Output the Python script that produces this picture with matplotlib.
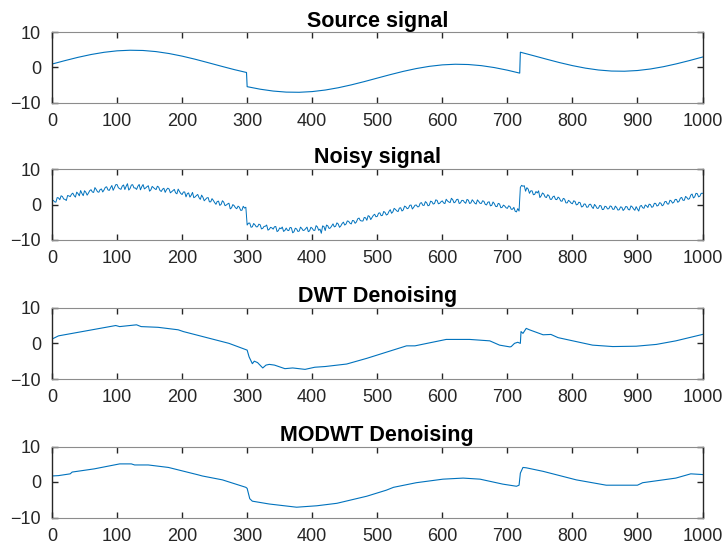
import matplotlib
matplotlib.use("Agg")
import matplotlib.pyplot as plt

plt.rcParams['font.family'] = ['Liberation Sans', 'DejaVu Sans']

titles = ["Source signal", "Noisy signal", "DWT Denoising", "MODWT Denoising"]
x_ticks = [0, 100, 200, 300, 400, 500, 600, 700, 800, 900, 1000]
y_ticks = [-10, 0, 10]

# Source signal (read every 20 samples, with both sides of the jumps)
src_x = [0, 20, 40, 60, 80, 100, 120, 140, 160, 180, 200, 220, 240, 260, 280, 299,
         300, 320, 340, 360, 380, 400, 420, 440, 460, 480, 500, 520, 540, 560, 580,
         600, 620, 640, 660, 680, 700, 719,
         720, 740, 760, 780, 800, 820, 840, 860, 880, 900, 920, 940, 960, 980, 1000]
src_y = [0.95, 1.94, 2.87, 3.67, 4.30, 4.72, 4.89, 4.82, 4.50, 3.95, 3.21, 2.33, 1.35, 0.35, -0.62, -1.45,
         -5.49, -6.21, -6.74, -7.04, -7.09, -6.89, -6.45, -5.80, -4.98, -4.05, -3.05, -2.06, -1.13, -0.33, 0.30,
         0.72, 0.90, 0.82, 0.50, -0.05, -0.79, -1.63,
         4.33, 3.35, 2.35, 1.38, 0.51, -0.21, -0.74, -1.04, -1.09, -0.89, -0.45, 0.20, 1.02, 1.95, 2.95]

# Noisy signal, samples 0, 4, 8, ..., 1000
noisy_even_y = [
    1.25, 0.75, 1.95, 1.35, 2.25,
    1.44, 2.53, 2.21, 3.20, 2.08,
    3.07, 3.93, 2.49, 3.45, 3.21,
    4.17, 3.40, 4.22, 3.45, 4.37,
    4.10, 4.98, 3.97, 5.35, 4.74,
    5.62, 4.45, 5.19, 4.22, 5.86,
    4.49, 5.58, 4.66, 5.15, 4.13,
    5.62, 4.66, 5.29, 4.13, 4.76,
    4.20, 4.89, 3.68, 4.57, 4.16,
    4.35, 3.60, 4.25, 3.01, 3.66,
    2.81, 3.53, 3.06, 2.08, 3.41,
    2.13, 2.83, 1.44, 2.04, 1.45,
    1.95, 0.75, 1.15, 0.05, 0.95,
    0.05, 0.66, -0.14, 0.37, -0.93,
    -0.32, -1.19, -0.75, -1.62, -1.00,
    -5.79, -5.23, -6.28, -5.72, -6.27,
    -5.71, -6.72, -6.12, -7.23, -6.43,
    -6.94, -6.20, -7.36, -6.82, -7.58,
    -6.64, -7.35, -6.56, -7.67, -6.88,
    -7.49, -6.75, -7.21, -6.37, -7.43,
    -6.69, -7.30, -6.31, -6.93, -6.04,
    -7.35, -6.02, -6.59, -5.46, -6.13,
    -5.50, -6.04, -4.97, -5.51, -4.74,
    -5.48, -4.59, -4.91, -3.82, -4.64,
    -3.65, -4.45, -3.35, -3.65, -2.75,
    -3.35, -2.35, -3.05, -2.25, -2.76,
    -1.46, -2.07, -1.39, -2.00, -0.92,
    -1.53, -0.67, -1.01, -0.15, -0.79,
    -0.13, -0.60, 0.52, -0.25, 0.47,
    -0.20, 0.78, 0.27, 1.15, 0.34,
    1.02, 0.26, 0.99, 0.53, 1.36,
    0.70, 1.48, 0.47, 1.15, 0.34,
    1.22, 0.46, 0.89, 0.13, 0.86,
    0.30, 0.89, -0.12, 0.77, -0.24,
    0.25, -0.60, 0.15, -0.79, -0.44,
    -1.09, -0.56, -1.33, -1.89, -1.16,
    4.83, 5.13, 3.74, 4.34, 3.85,
    2.75, 3.65, 3.85, 2.45, 2.95,
    1.95, 2.46, 1.46, 2.37, 1.37,
    1.78, 0.91, 1.53, 0.46, 0.88,
    0.21, 0.87, 0.02, 0.48, -0.57,
    0.09, -0.72, 0.08, -1.13, -0.43,
    -1.04, -0.40, -1.36, -0.62, -1.18,
    -0.54, -1.35, -0.86, -1.47, -0.78,
    -1.29, -0.65, -1.51, -0.67, -1.63,
    -1.29, -0.50, -0.91, -0.13, -0.84,
    -0.05, -0.62, 0.31, -0.26, 0.37,
    -0.10, 0.86, 0.13, 0.99, 0.66,
    1.42, 0.91, 1.99, 1.18, 1.96,
    1.65, 2.95, 2.15, 3.05, 2.35,
    3.15,
]

# Noisy signal, samples 2, 6, 10, ..., 998
noisy_odd_y = [
    1.15, 0.65, 1.85, 2.45, 1.55,
    1.13, 2.42, 2.90, 2.49, 3.48,
    2.45, 3.11, 3.87, 2.63, 3.89,
    3.53, 4.76, 3.58, 4.21, 3.53,
    4.84, 4.12, 4.71, 4.00, 5.58,
    4.74, 4.27, 5.50, 5.14, 4.07,
    5.48, 4.67, 4.25, 5.64, 5.02,
    4.39, 5.02, 3.76, 5.10, 4.43,
    5.15, 3.94, 4.33, 3.42, 4.60,
    3.28, 3.93, 3.28, 4.34, 3.09,
    3.52, 2.15, 3.27, 2.60, 1.92,
    2.53, 1.94, 2.64, 1.05, 1.85,
    0.75, 1.65, 0.55, 0.85, -0.25,
    1.06, -0.34, 0.16, -1.23, -0.03,
    -0.91, -0.47, -1.64, -0.50, -0.77,
    -5.26, -6.41, -5.35, -6.30, -5.54,
    -6.87, -6.17, -5.78, -6.98, -6.59,
    -6.27, -7.63, -6.59, -6.35, -7.31,
    -7.25, -6.46, -7.97, -6.68, -7.59,
    -6.37, -7.33, -6.79, -7.65, -6.41,
    -7.25, -5.96, -7.27, -8.10, -6.20,
    -5.79, -6.76, -6.03, -6.30, -5.17,
    -6.42, -5.36, -5.79, -4.63, -5.26,
    -4.49, -5.30, -4.02, -4.53, -4.65,
    -3.75, -3.15, -4.25, -3.05, -3.45,
    -2.45, -3.15, -1.95, -2.96, -1.96,
    -2.47, -1.08, -1.80, -1.01, -1.83,
    -0.45, -1.19, -0.23, -1.27, -0.21,
    -0.67, 0.36, -0.22, 0.81, -0.36,
    0.94, 0.13, 1.31, 0.20, 0.78,
    0.44, 1.48, 0.71, 1.75, 0.48,
    1.39, 0.28, 1.16, 0.65, 1.43,
    0.29, 1.33, 0.36, 1.30, 0.33,
    1.05, 0.04, 0.63, -0.38, 0.71,
    -0.53, 0.32, -0.92, -0.17, -0.92,
    -0.38, -1.35, -0.81, -2.08, -1.85,
    5.40, 5.30, 4.74, 3.15, 3.85,
    2.85, 3.25, 1.95, 3.25, 2.15,
    2.76, 1.46, 2.17, 1.47, 2.08,
    1.00, 1.72, 0.45, 1.17, 0.40,
    1.04, -0.10, 0.65, -0.69, 0.16,
    -0.77, 0.03, -0.68, 0.02, -1.09,
    -0.27, -1.43, -0.49, -1.25, -0.41,
    -1.35, -0.46, -1.57, -0.68, -1.69,
    -0.57, -1.43, -0.39, -1.25, -0.61,
    -1.85, -0.26, -1.07, -0.39, 0.10,
    -0.79, 0.34, -0.43, 0.51, -0.36,
    0.78, 0.15, 1.21, 0.38, 1.44,
    0.62, 1.80, 1.19, 2.27, 1.46,
    2.65, 1.85, 3.15, 2.15, 3.15,
]

# DWT denoised signal (breakpoints)
dwt_x = [0, 10, 98, 104, 130, 137, 163, 194, 202, 272, 300, 303, 308, 311, 316, 324, 329, 334,
         342, 358, 370, 389, 404, 420, 453, 484, 545, 558, 606, 642, 673, 688, 704, 706, 711,
         716, 720, 721, 724, 729, 734, 755, 767, 778, 831, 862, 898, 929, 959, 1000]
dwt_y = [1.2, 2.1, 5.0, 4.7, 5.2, 4.7, 4.5, 3.8, 3.3, 0.0, -1.9, -3.8, -5.7, -5.0, -5.4, -6.9, -6.1, -5.9,
         -6.1, -7.1, -6.9, -7.3, -6.7, -6.5, -5.8, -4.2, -0.7, -0.7, 1.1, 1.1, 0.7, -0.5, -1.0, -0.9, 0.0,
         0.3, 0.0, 3.3, 2.8, 4.2, 3.8, 2.4, 2.5, 1.6, -0.5, -0.9, -0.8, -0.3, 0.7, 2.5]

# MODWT denoised signal (breakpoints)
modwt_x = [0, 10, 28, 31, 65, 104, 122, 127, 148, 179, 225, 231, 262, 298, 300, 304, 308, 334,
           376, 407, 438, 484, 514, 525, 560, 601, 632, 658, 693, 714, 718, 720, 724, 729, 755,
           806, 852, 900, 908, 959, 982, 1000]
modwt_y = [1.7, 1.8, 2.3, 2.8, 3.7, 5.1, 5.1, 4.8, 4.8, 4.1, 2.0, 1.7, 0.6, -1.5, -1.8, -4.7, -5.4, -6.2,
           -7.1, -6.7, -6.0, -4.0, -2.3, -1.5, -0.2, 0.8, 1.1, 0.8, -0.6, -1.2, -0.9, 2.5, 4.1, 4.0, 3.0,
           0.6, -0.9, -0.9, -0.2, 1.1, 2.3, 2.1]

# interleave the two noisy lists into one series sampled every 2
noisy_x = []
noisy_y = []
for i, v in enumerate(noisy_even_y):
    noisy_x.append(4 * i)
    noisy_y.append(v)
    if i < len(noisy_odd_y):
        noisy_x.append(4 * i + 2)
        noisy_y.append(noisy_odd_y[i])

series = [(src_x, src_y), (noisy_x, noisy_y), (dwt_x, dwt_y), (modwt_x, modwt_y)]
widths = [0.8, 0.7, 0.8, 0.8]

fig = plt.figure(figsize=(7.26, 5.51), dpi=100)
W, H = 726, 551
left_px, right_px = 52, 702.5
boxes = [(32.3, 102.5), (169, 240), (307.7, 379), (446.5, 517.5)]
line_color = '#0072BD'
dark = '#262626'

for (tp, bt), (xs, ys), title, lw in zip(boxes, series, titles, widths):
    ax = fig.add_axes([left_px / W, 1 - bt / H, (right_px - left_px) / W, (bt - tp) / H])
    ax.plot(xs, ys, color=line_color, linewidth=lw)
    ax.set_xlim(0, 1000)
    ax.set_ylim(-10, 10)
    ax.set_xticks(x_ticks)
    ax.set_yticks(y_ticks)
    ax.tick_params(direction='in', length=4.5, width=1.0, color=dark, labelcolor=dark,
                   labelsize=13, top=True, right=True)
    ax.tick_params(axis='x', pad=7.5)
    ax.tick_params(axis='y', pad=8)
    for s in ['left', 'right']:
        ax.spines[s].set_color(dark)
        ax.spines[s].set_linewidth(1.0)
    for s in ['top', 'bottom']:
        ax.spines[s].set_color('#8c8c8c')
        ax.spines[s].set_linewidth(0.8)
    ax.set_title(title, fontsize=15.5, fontweight='bold', color='black', pad=4)

fig.savefig('out.png', dpi=100)
